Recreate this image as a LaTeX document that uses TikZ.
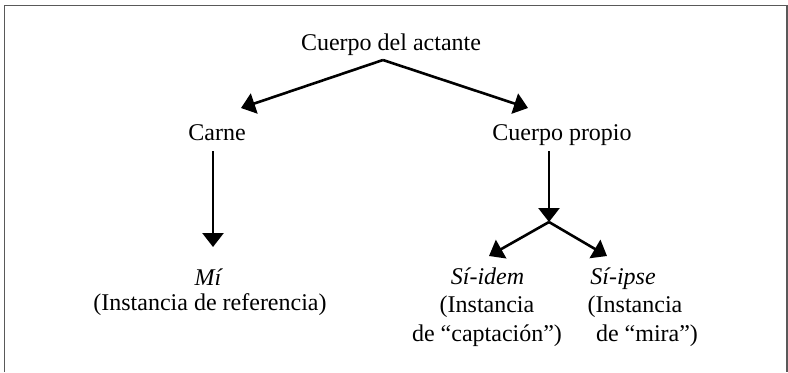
\documentclass[tikz,border=0pt]{standalone}
\usepackage{fontspec}
\setmainfont{Liberation Serif}
\usetikzlibrary{arrows.meta}

\tikzset{
  txt/.style={anchor=base,inner sep=0pt,font=\fontsize{12}{14}\selectfont},
  arr/.style={-{Triangle[length=7pt,width=10.5pt]},line width=1.3pt},
  frame/.style={line width=0.75pt,draw=gray!70!black}
}

\begin{document}
\begin{tikzpicture}[x=0.5pt,y=-0.5pt]

\useasboundingbox (0,0) rectangle (788,372);
\draw[frame] (4.5,372) -- (4.5,5.5) -- (787,5.5) -- (787,372);

% top:
\node[txt] (actante) at (391,50) {Cuerpo del actante};
\coordinate (actanteFoot) at (383,60);

% 2nd tier:
\node[txt] (carne) at (217,140) {Carne};
\node[txt] (propio) at (562,140) {Cuerpo propio};
\coordinate (carneHead) at (241,108);
\coordinate (propioHead) at (528,108);

\draw[arr] (actanteFoot) -- (carneHead);
\draw[arr] (actanteFoot) -- (propioHead);

\coordinate (carneFoot) at (213,151);
\coordinate (propioFoot) at (549,151);
\coordinate (split) at (549,222);

% 3rd tier:
\node[txt] (mi) at (208,285) {\itshape Mí};
\node[txt] (miRef) at (210,310) {(Instancia de referencia)};

\node[txt] (idem) at (487.5,284) {\itshape Sí-idem};
\node[txt] (idemA) at (487,312) {(Instancia};
\node[txt] (idemB) at (487,341) {de “captación”)};

\node[txt] (ipse) at (623,284) {\itshape Sí-ipse};
\node[txt] (ipseA) at (635,312) {(Instancia};
\node[txt] (ipseB) at (647,341) {de “mira”)};

\coordinate (miHead) at (213,247);
\coordinate (idemHead) at (489,256);
\coordinate (ipseHead) at (607,256);

\draw[arr] (carneFoot) -- (miHead);
\draw[arr] (propioFoot) -- (split);
\draw[arr] (split) -- (idemHead);
\draw[arr] (split) -- (ipseHead);

\end{tikzpicture}
\end{document}
